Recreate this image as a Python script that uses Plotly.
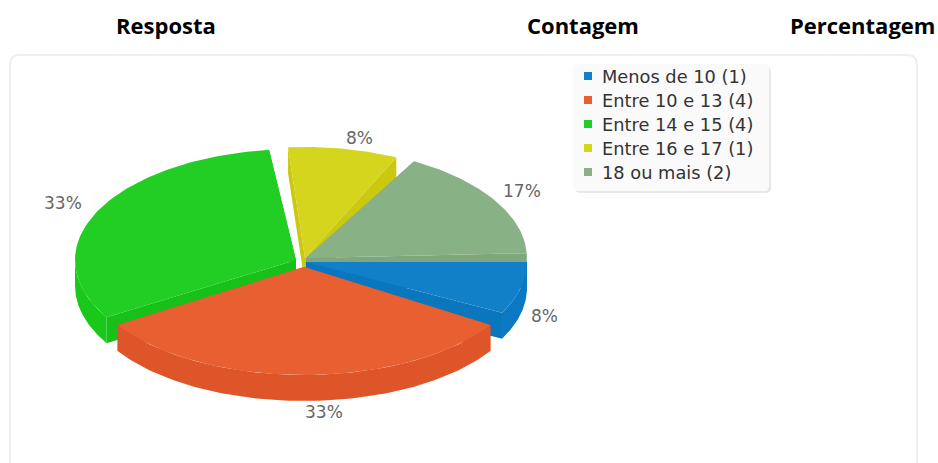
import numpy as np
import plotly.graph_objects as go

# Data
categories = ["Menos de 10", "Entre 10 e 13", "Entre 14 e 15", "Entre 16 e 17", "18 ou mais"]
counts = [1, 4, 4, 1, 2]
headers = ["Resposta", "Contagem", "Percentagem"]

# Style
top_colors = ["#1180C8", "#E86032", "#22CE24", "#D4D51C", "#88B185"]
outer_colors = ["#0A78C2", "#DD5528", "#1AC81C", "#CCCB12", "#7FA67D"]
edge_colors = ["#0A76BE", "#DD5528", "#18C01A", "#CBC810", "#7FA67D"]
centers = [(306, 262), (304, 267), (296, 260), (305, 258), (306, 258)]
radii = [(221, 110), (221, 108), (221, 111), (216, 111), (221, 111)]
angle_shift = [(0, -2.5), (2.5, -2.5), (-1, -7), (-4.5, -5), (-0.7, -2.5)]
label_offset = [(25.5, 25.5), (20, 37), (-42, -2), (-1, -13), (25, -12)]
draw_order = [3, 2, 4, 0, 1]
DEPTH = 26
LABEL_FONT = "DejaVu Sans"

total = sum(counts)
edges = np.cumsum([0] + counts) / total * 360


def arc(i, a0, a1, n=80):
    t = np.radians(np.linspace(a0, a1, n))
    cx, cy = centers[i]
    rx, ry = radii[i]
    return cx + rx * np.cos(t), cy + ry * np.sin(t)


def poly(x, y, color):
    return go.Scatter(x=list(x), y=list(y), mode="lines", fill="toself", fillcolor=color,
                      line=dict(width=0, color=color), hoverinfo="skip", showlegend=False)


fig = go.Figure()

for i in draw_order:
    a0 = edges[i] + angle_shift[i][0]
    a1 = edges[i + 1] + angle_shift[i][1]
    cx, cy = centers[i]
    # straight side walls
    for a in (a0, a1):
        ex, ey = arc(i, a, a, 1)
        fig.add_trace(poly([cx, ex[0], ex[0], cx], [cy, ey[0], ey[0] + DEPTH, cy + DEPTH], edge_colors[i]))
    # curved front wall
    lo, hi = max(a0, 0), min(a1, 180)
    if lo < hi:
        x, y = arc(i, lo, hi)
        fig.add_trace(poly(np.r_[x, x[::-1]], np.r_[y, y[::-1] + DEPTH], outer_colors[i]))
    # top face
    x, y = arc(i, a0, a1)
    fig.add_trace(poly(np.r_[cx, x, cx], np.r_[cy, y, cy], top_colors[i]))

annotations = []
# percentage labels
for i, c in enumerate(counts):
    mid = (edges[i] + edges[i + 1]) / 2
    x, y = arc(i, mid, mid, 1)
    annotations.append(dict(x=x[0] + label_offset[i][0], y=y[0] + label_offset[i][1],
                            text=f"{round(c / total * 100)}%", showarrow=False,
                            font=dict(family=LABEL_FONT, size=17, color="#666666")))

# legend
LEG_X, LEG_Y, LEG_STEP = 588, 76, 24
fig.add_trace(go.Scatter(
    x=[LEG_X] * len(categories), y=[LEG_Y + LEG_STEP * k for k in range(len(categories))],
    mode="markers", marker=dict(symbol="square", size=8, color=top_colors, line=dict(width=0)),
    hoverinfo="skip", showlegend=False))
for k, (name, c) in enumerate(zip(categories, counts)):
    annotations.append(dict(x=LEG_X + 12, y=LEG_Y + LEG_STEP * k, xanchor="left",
                            text=f"{name} ({c})", showarrow=False,
                            font=dict(family=LABEL_FONT, size=17.8, color="#333333")))

# column headers
for text, x in zip(headers, (166, 583, 862)):
    annotations.append(dict(x=x, y=25, text=text, showarrow=False,
                            font=dict(family="Open Sans", size=22, color="#000000", weight="bold")))


def rrect(x0, y0, x1, y1, r):
    return (f"M{x0 + r} {y0} L{x1 - r} {y0} Q{x1} {y0} {x1} {y0 + r} L{x1} {y1 - r} Q{x1} {y1} {x1 - r} {y1} "
            f"L{x0 + r} {y1} Q{x0} {y1} {x0} {y1 - r} L{x0} {y0 + r} Q{x0} {y0} {x0 + r} {y0} Z")


shapes = [
    dict(type="path", layer="below", path="M10 470 L10 65 Q10 55 20 55 L907 55 Q917 55 917 65 L917 470",
         line=dict(color="#EFEFEF", width=2)),
    dict(type="path", layer="below", path=rrect(575, 67, 771, 193, 5), fillcolor="#E8E8E8", line=dict(width=0)),
    dict(type="path", layer="below", path=rrect(573, 64, 769, 191, 5), fillcolor="#FAFAFA", line=dict(width=0)),
]

fig.update_layout(
    width=938, height=463, margin=dict(l=0, r=0, t=0, b=0),
    paper_bgcolor="white", plot_bgcolor="white", showlegend=False,
    xaxis=dict(range=[0, 938], visible=False, fixedrange=True),
    yaxis=dict(range=[463, 0], visible=False, fixedrange=True),
    annotations=annotations, shapes=shapes,
)
fig.write_html("out.html", post_script="document.body.style.margin='0';document.body.style.overflow='hidden';",
               config={"displayModeBar": False})
